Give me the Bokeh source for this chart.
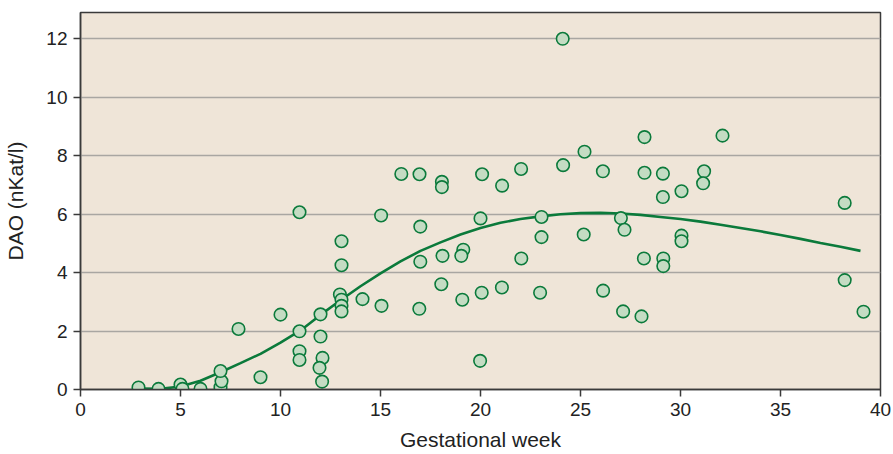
from bokeh.plotting import figure
from bokeh.models import Range1d, FixedTicker
from bokeh.embed import file_html
from bokeh.resources import INLINE

# Measured points (gestational week, DAO nKat/l)
week = [2.9, 3.9, 5.0, 5.1, 6.0, 7.0, 7.05, 7.0, 7.9, 9.0, 10.0,
        10.95, 10.95, 10.95, 10.95, 12.0, 12.0, 12.1, 11.95, 12.08,
        12.97, 13.05, 13.05, 13.05, 13.05, 13.05, 14.1, 15.03, 15.05,
        16.04, 16.95, 16.99, 16.99, 16.94, 18.07, 18.07, 18.1, 18.04,
        19.14, 19.04, 19.09, 20.08, 20.0, 20.06, 19.98, 21.08, 21.07,
        22.03, 22.04, 24.11, 24.13, 23.05, 23.05, 22.98, 25.2, 25.16,
        26.12, 26.13, 27.02, 27.2, 27.13, 28.2, 28.2, 28.17, 28.05,
        29.12, 29.12, 29.14, 29.14, 30.05, 30.05, 30.05, 31.18, 31.13,
        32.1, 38.21, 38.21, 39.15]
dao = [0.07, 0.02, 0.17, 0.02, 0.02, 0.08, 0.28, 0.63, 2.07, 0.42, 2.56,
       6.06, 1.99, 1.31, 1.01, 2.57, 1.81, 1.08, 0.74, 0.27,
       3.25, 3.07, 2.86, 2.67, 5.07, 4.25, 3.09, 5.95, 2.86,
       7.37, 7.36, 5.57, 4.37, 2.76, 7.10, 6.92, 4.57, 3.60,
       4.78, 4.57, 3.07, 7.36, 5.85, 3.31, 0.98, 6.97, 3.49,
       7.54, 4.48, 11.99, 7.67, 5.90, 5.21, 3.31, 8.13, 5.30,
       7.46, 3.38, 5.86, 5.46, 2.67, 8.63, 7.41, 4.48, 2.50,
       7.38, 6.58, 4.48, 4.22, 6.78, 5.26, 5.07, 7.46, 7.05,
       8.68, 6.38, 3.74, 2.66]

# Fitted curve
curve_week = [3, 4, 5, 6, 7, 8, 9, 10, 11, 12, 13, 14, 15, 16, 17, 18, 19,
              20, 21, 22, 23, 24, 25, 26, 27, 28, 29, 30, 31, 32, 33, 34,
              35, 36, 37, 38, 39]
curve_dao = [0.03, 0.02, 0.10, 0.30, 0.59, 0.90, 1.22, 1.60, 2.02, 2.55,
             3.05, 3.53, 3.97, 4.38, 4.74, 5.03, 5.30, 5.52, 5.70, 5.83,
             5.92, 5.99, 6.03, 6.04, 6.02, 5.97, 5.90, 5.83, 5.74, 5.63,
             5.52, 5.41, 5.28, 5.15, 5.01, 4.88, 4.74]

x_ticks = [0, 5, 10, 15, 20, 25, 30, 35, 40]
y_ticks = [0, 2, 4, 6, 8, 10, 12]

GREEN = "#0b7a3b"
FILL = "#c4dcc3"
BG = "#efe5d8"
AX = "#3a3a3a"
FONT = "Liberation Sans"

p = figure(width=893, height=454, output_backend="svg", toolbar_location=None,
           x_range=Range1d(0, 40), y_range=Range1d(0, 12.89),
           min_border_left=80, min_border_right=13, min_border_top=12,
           min_border_bottom=65)
p.background_fill_color = BG
p.border_fill_color = "white"
p.outline_line_color = AX
p.outline_line_width = 1.5

p.xgrid.grid_line_color = None
p.ygrid.grid_line_color = "#a9a6a2"
p.ygrid.grid_line_width = 1.5
p.ygrid.ticker = FixedTicker(ticks=y_ticks)

for ax in (p.xaxis[0], p.yaxis[0]):
    ax.axis_line_color = AX
    ax.axis_line_width = 1.5
    ax.major_tick_line_color = AX
    ax.major_tick_line_width = 1.5
    ax.major_tick_out = 7
    ax.major_tick_in = 0
    ax.minor_tick_line_color = None
    ax.major_label_text_font = FONT
    ax.major_label_text_font_size = "19px"
    ax.major_label_text_color = "#222222"
    ax.axis_label_text_font = FONT
    ax.axis_label_text_font_size = "21px"
    ax.axis_label_text_font_style = "normal"
    ax.axis_label_text_color = "#222222"

p.xaxis.ticker = FixedTicker(ticks=x_ticks)
p.yaxis.ticker = FixedTicker(ticks=y_ticks)
p.xaxis.axis_label = "Gestational week"
p.yaxis.axis_label = "DAO (nKat/l)"
p.xaxis.major_label_standoff = 6
p.yaxis.major_label_standoff = 6
p.xaxis.axis_label_standoff = 9
p.yaxis.axis_label_standoff = 16

p.line(curve_week, curve_dao, line_color=GREEN, line_width=2.6)
p.scatter(week, dao, size=12.5, fill_color=FILL, line_color=GREEN,
          line_width=1.6)

open("out.html", "w").write(file_html(p, INLINE))
